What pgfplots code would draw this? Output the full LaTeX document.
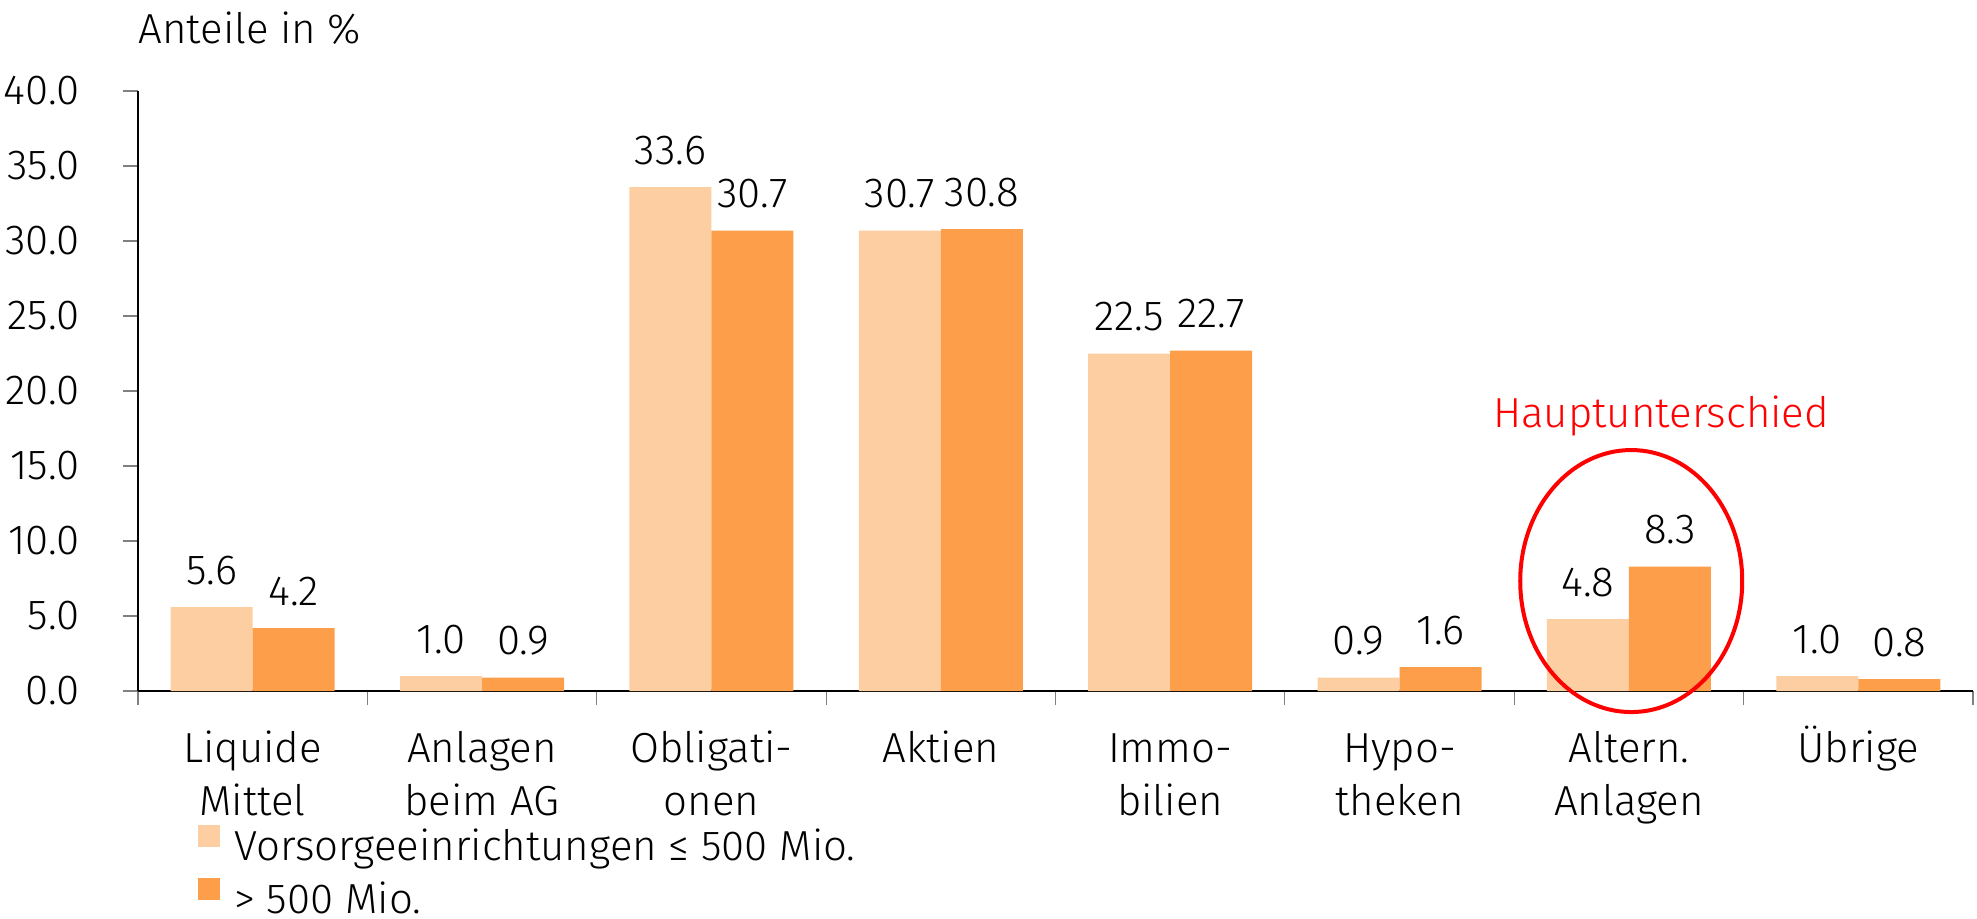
\documentclass[border=0pt]{standalone}
\usepackage{pgfplots}
\pgfplotsset{compat=1.18}
\usepackage{fontspec}
\setmainfont{Fira Sans}[UprightFont=* Light]
\definecolor{lightor}{RGB}{253,206,161}
\definecolor{darkor}{RGB}{253,159,74}
\begin{document}
\begin{tikzpicture}[font=\fontsize{21}{26.5}\selectfont]
\begin{axis}[
  scale only axis,
  width=917.5pt, height=300pt,
  ybar=0pt, bar width=41pt,
  xmin=-0.5, xmax=7.5, ymin=0, ymax=40,
  ytick={0,5,...,40},
  xtick={0,...,7},
  xticklabels={{Liquide\\Mittel},{Anlagen\\beim AG},{Obligati-\\onen},{Aktien\\\mbox{}},{Immo-\\bilien},{Hypo-\\theken},{Altern.\\Anlagen},{Übrige\\\mbox{}}},
  minor xtick={-0.5,0.5,...,7.5},
  axis x line=bottom, axis y line=left,
  axis line style={-, line width=0.6pt, black},
  tick align=outside,
  tick style={gray, line width=0.6pt},
  major x tick style={draw=none},
  minor tick length=7pt,
  major tick length=7.5pt,
  /pgf/number format/assume math mode=true,
  yticklabel style={anchor=east, inner sep=0pt, xshift=-21.5pt,
    /pgf/number format/.cd, fixed, fixed zerofill, precision=1},
  xticklabel style={anchor=base, inner sep=0pt, yshift=-54.5pt, align=center},
  nodes near coords={\pgfmathprintnumber[fixed,fixed zerofill,precision=1]{\pgfplotspointmeta}},
  every node near coord/.append style={anchor=base, inner sep=0pt, yshift=11.5pt, black},
  legend style={at={(0,0)}, anchor=north west, xshift=30pt, yshift=-67pt,
    draw=none, fill=none, inner sep=0pt, row sep=7pt, column sep=7pt,
    nodes={inner sep=0pt, text height=15pt, text depth=2pt}},
  legend cell align=left,
  clip=false,
]
\addplot[fill=lightor, draw=none, legend image code/.code={\fill[lightor] (0pt,0pt) rectangle (11pt,11pt);}]
  coordinates {(0,5.6) (1,1.0) (2,33.6) (3,30.7) (4,22.5) (5,0.9) (6,4.8) (7,1.0)};
\addlegendentry{Vorsorgeeinrichtungen ≤ 500 Mio.}
\addplot[fill=darkor, draw=none, legend image code/.code={\fill[darkor] (0pt,0pt) rectangle (11pt,11pt);}]
  coordinates {(0,4.2) (1,0.9) (2,30.7) (3,30.8) (4,22.7) (5,1.6) (6,8.3) (7,0.8)};
\addlegendentry{> 500 Mio.}
\coordinate (O) at (rel axis cs:0,0);
\coordinate (T) at (rel axis cs:1,1);
\node[anchor=base west, inner sep=0pt, yshift=24pt] at (rel axis cs:0,1) {Anteile in \%};
\node[anchor=base, inner sep=0pt, red] at (axis cs:6.14,17.6) {Hauptunterschied};
\draw[red, line width=2pt] (axis cs:6.01,7.33) ellipse [x radius=55.5pt, y radius=65.5pt];
\end{axis}
\pgfresetboundingbox
\path[use as bounding box] ([shift={(-69pt,-113.5pt)}]O) rectangle ([shift={(2pt,45.5pt)}]T);
\end{tikzpicture}
\end{document}
